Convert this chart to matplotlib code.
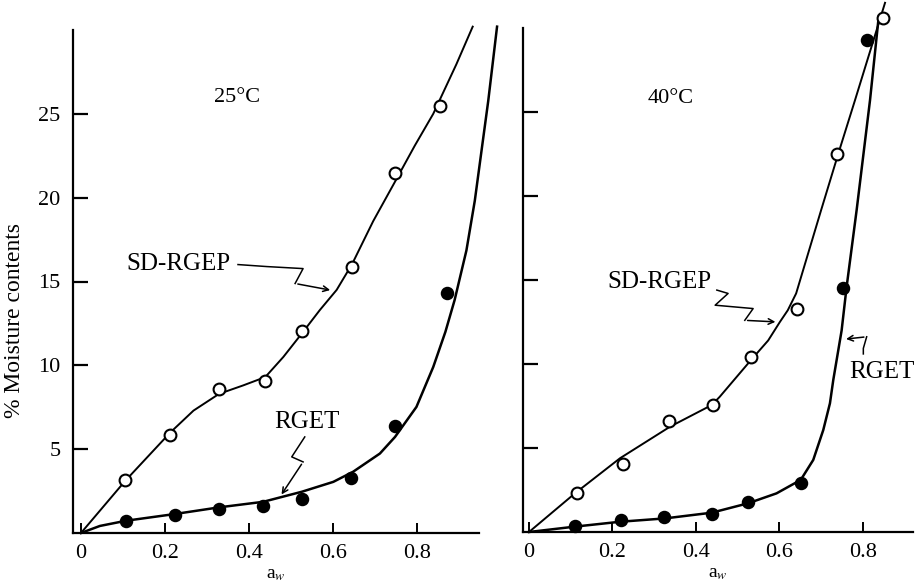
import matplotlib.pyplot as plt

plt.rcParams['font.family'] = ['Liberation Serif', 'DejaVu Serif']
plt.rcParams['mathtext.fontset'] = 'stix'

# ---- 25 C panel ----
aw_25 = [0.105, 0.213, 0.329, 0.439, 0.526, 0.646, 0.749, 0.855]
sd_25 = [3.15, 5.83, 8.6, 9.07, 12.04, 15.85, 21.47, 25.48]
aw_25_rget = [0.107, 0.223, 0.329, 0.433, 0.526, 0.643, 0.748, 0.871]
rget_25 = [0.73, 1.07, 1.41, 1.61, 2.0, 3.26, 6.37, 14.3]

# fitted curves
sd_25_curve_x = [0.0, 0.105, 0.213, 0.268, 0.329, 0.386, 0.439, 0.482, 0.526, 0.569,
                 0.609, 0.646, 0.696, 0.749, 0.795, 0.839, 0.894, 0.933]
sd_25_curve_y = [0.0, 3.1, 6.0, 7.3, 8.3, 8.8, 9.3, 10.5, 11.9, 13.3,
                 14.5, 16.05, 18.6, 21.0, 23.1, 25.0, 27.95, 30.2]
rget_25_curve_x = [0.0, 0.045, 0.107, 0.223, 0.329, 0.434, 0.526, 0.601, 0.648, 0.712,
                   0.748, 0.799, 0.839, 0.868, 0.89, 0.918, 0.938, 0.954, 0.970, 0.991]
rget_25_curve_y = [0.0, 0.42, 0.73, 1.13, 1.53, 1.86, 2.46, 3.05, 3.65, 4.74,
                   5.73, 7.52, 9.9, 12.0, 13.9, 16.85, 19.82, 22.8, 25.77, 30.2]

# ---- 40 C panel ----
aw_40 = [0.114, 0.224, 0.336, 0.44, 0.532, 0.643, 0.737, 0.849]
sd_40 = [2.3, 4.05, 6.6, 7.56, 10.4, 13.26, 22.5, 30.6]
aw_40_rget = [0.11, 0.22, 0.323, 0.439, 0.525, 0.651, 0.753, 0.81]
rget_40 = [0.36, 0.71, 0.87, 1.05, 1.79, 2.94, 14.5, 29.3]

sd_40_curve_x = [0.0, 0.11, 0.218, 0.338, 0.438, 0.457, 0.532, 0.573, 0.601, 0.62,
                 0.64, 0.70, 0.742, 0.781, 0.853]
sd_40_curve_y = [0.0, 2.3, 4.39, 6.27, 7.56, 8.05, 10.24, 11.4, 12.5, 13.2,
                 14.2, 19.17, 22.6, 25.7, 31.5]
rget_40_curve_x = [0.0, 0.11, 0.218, 0.326, 0.438, 0.525, 0.593, 0.651, 0.681, 0.705,
                   0.721, 0.729, 0.749, 0.761, 0.785, 0.817, 0.838]
rget_40_curve_y = [0.0, 0.32, 0.61, 0.81, 1.15, 1.71, 2.3, 3.1, 4.29, 6.07,
                   7.66, 9.05, 12.0, 14.6, 19.17, 25.7, 30.7]

y_ticks = [5, 10, 15, 20, 25]
x_ticks = [0, 0.2, 0.4, 0.6, 0.8]
x_ticklabels = ['0', '0.2', '0.4', '0.6', '0.8']

# squiggly pointer paths (label -> curve)
sd_25_arrow = [(0.374, 16.01), (0.443, 15.89), (0.529, 15.77), (0.510, 14.88), (0.6, 14.46)]
rget_25_arrow = [(0.533, 5.73), (0.502, 4.54), (0.529, 4.24), (0.474, 2.16)]
sd_40_arrow = [(0.45, 14.4), (0.477, 14.2), (0.446, 13.5), (0.537, 13.3), (0.517, 12.6), (0.597, 12.5)]
rget_40_arrow = [(0.801, 10.6), (0.801, 10.93), (0.809, 11.62), (0.753, 11.47)]

fig = plt.figure(figsize=(9.19, 5.85), dpi=100)
ax1 = fig.add_axes([73 / 919, 52 / 585, 406 / 919, 503 / 585])
ax2 = fig.add_axes([523 / 919, 53 / 585, 390 / 919, 504 / 585])


def style_axis(ax, xmin, xmax, show_ylabels):
    ax.set_xlim(xmin, xmax)
    ax.set_ylim(0, 30)
    for s in ['top', 'right']:
        ax.spines[s].set_visible(False)
    for s in ['left', 'bottom']:
        ax.spines[s].set_linewidth(1.6)
    ax.set_xticks(x_ticks)
    ax.set_xticklabels(x_ticklabels)
    ax.set_yticks(y_ticks)
    if not show_ylabels:
        ax.set_yticklabels([])
    ax.tick_params(axis='y', direction='in', length=11, width=1.6, pad=9, labelsize=16)
    ax.tick_params(axis='x', direction='in', length=7, width=1.4, pad=8, labelsize=16)
    ax.set_xlabel('a$_w$', fontsize=14, labelpad=2)


def draw_pointer(ax, path):
    xs = [p[0] for p in path]
    ys = [p[1] for p in path]
    ax.plot(xs[:-1], ys[:-1], color='black', lw=1.1, clip_on=False)
    ax.annotate('', xy=path[-1], xytext=path[-2],
                arrowprops=dict(arrowstyle='->', color='black', lw=1.1))


def draw_panel(ax, curve_a, curve_b, open_pts, filled_pts):
    ax.plot(curve_a[0], curve_a[1], color='black', lw=1.4, clip_on=False)
    ax.plot(curve_b[0], curve_b[1], color='black', lw=1.8, clip_on=False)
    ax.plot(open_pts[0], open_pts[1], 'o', ms=8.5, mfc='white', mec='black',
            mew=1.5, clip_on=False, zorder=3)
    ax.plot(filled_pts[0], filled_pts[1], 'o', ms=8.5, mfc='black', mec='black',
            mew=1.2, clip_on=False, zorder=3)


style_axis(ax1, -0.019, 0.948, True)
draw_panel(ax1, (sd_25_curve_x, sd_25_curve_y), (rget_25_curve_x, rget_25_curve_y),
           (aw_25, sd_25), (aw_25_rget, rget_25))
ax1.set_ylabel('% Moisture contents', fontsize=17)
ax1.yaxis.set_label_coords(-0.118, 0.423)
ax1.text(0.372, 26.0, '25°C', fontsize=16, ha='center', va='center')
ax1.text(0.233, 16.05, 'SD-RGEP', fontsize=18, ha='center', va='center')
ax1.text(0.538, 6.6, 'RGET', fontsize=18, ha='center', va='center')
draw_pointer(ax1, sd_25_arrow)
draw_pointer(ax1, rget_25_arrow)

style_axis(ax2, -0.0144, 0.92, False)
draw_panel(ax2, (sd_40_curve_x, sd_40_curve_y), (rget_40_curve_x, rget_40_curve_y),
           (aw_40, sd_40), (aw_40_rget, rget_40))
ax2.text(0.34, 25.8, '40°C', fontsize=16, ha='center', va='center')
ax2.text(0.312, 14.9, 'SD-RGEP', fontsize=18, ha='center', va='center')
ax2.text(0.845, 9.5, 'RGET', fontsize=18, ha='center', va='center')
draw_pointer(ax2, sd_40_arrow)
draw_pointer(ax2, rget_40_arrow)

fig.savefig('out.png', dpi=100)
